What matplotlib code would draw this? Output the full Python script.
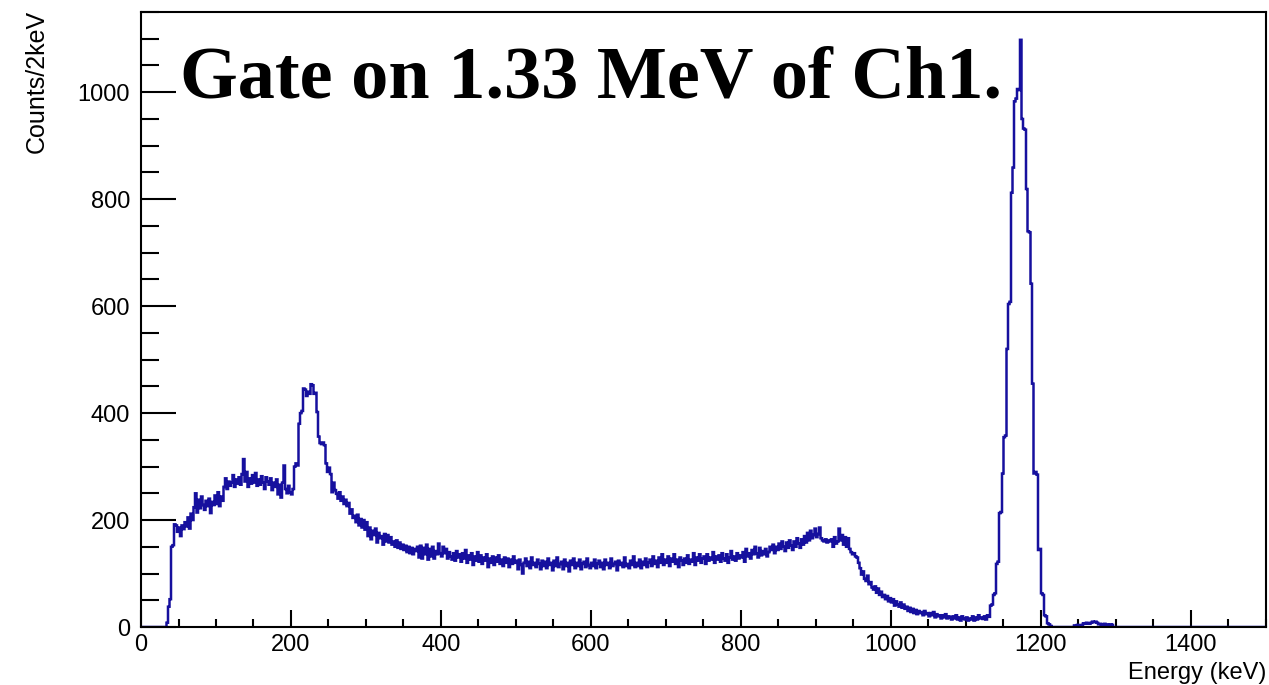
import numpy as np
import matplotlib.pyplot as plt
from matplotlib.ticker import MultipleLocator

# energy spectrum gated on 1.33 MeV, 2 keV per bin from 0 to 1500 keV
bin_width = 2
e_min = 0
e_max = 1500

# counts per bin, 100 keV at a time
counts_0_100 = [0] * 17 + [8, 38, 52, 150, 153, 192, 190, 178,
    186, 170, 190, 183, 196, 188, 205, 184, 212, 200,
    224, 250, 214, 238, 222, 244, 228, 219, 236, 226,
    240, 213, 234, 228, 246]
counts_100_200 = [230, 252, 226, 244, 236, 262, 278, 258, 272, 264,
    270, 284, 262, 276, 268, 280, 266, 286, 314, 272,
    290, 262, 278, 268, 284, 270, 288, 264, 276, 266,
    282, 270, 258, 280, 272, 266, 278, 256, 270, 262,
    276, 248, 266, 242, 270, 302, 258, 250, 264, 252]
counts_200_300 = [248, 258, 300, 306, 302, 380, 400, 404, 446, 444,
    432, 440, 436, 454, 452, 436, 438, 402, 356, 344,
    342, 345, 340, 306, 290, 298, 286, 252, 270, 256,
    249, 240, 252, 236, 244, 230, 238, 226, 232, 212,
    220, 204, 208, 196, 210, 190, 202, 186, 200, 182]
counts_300_400 = [196, 170, 186, 164, 180, 172, 184, 158, 176, 166,
    170, 154, 174, 160, 172, 158, 168, 154, 160, 150,
    162, 148, 158, 146, 154, 144, 152, 140, 150, 138,
    148, 136, 146, 142, 150, 130, 152, 128, 148, 136,
    154, 126, 146, 132, 150, 128, 142, 136, 156, 138]
counts_400_500 = [132, 150, 138, 146, 128, 140, 132, 126, 138, 124,
    142, 130, 136, 122, 138, 128, 144, 120, 134, 126,
    138, 116, 132, 124, 140, 122, 134, 118, 130, 124,
    136, 112, 128, 120, 132, 116, 130, 122, 134, 118,
    126, 114, 130, 120, 128, 112, 126, 118, 132, 120]
counts_500_600 = [124, 108, 126, 116, 100, 120, 128, 114, 122, 110,
    130, 116, 120, 112, 126, 118, 108, 124, 114, 122,
    110, 128, 116, 120, 106, 124, 114, 130, 112, 118,
    122, 108, 126, 114, 120, 104, 124, 116, 128, 110,
    120, 114, 126, 108, 118, 122, 112, 128, 116, 110]
counts_600_700 = [120, 114, 126, 110, 118, 124, 112, 120, 108, 126,
    116, 120, 110, 128, 114, 118, 122, 106, 124, 116,
    120, 112, 130, 114, 118, 110, 124, 116, 132, 112,
    120, 114, 126, 110, 122, 116, 128, 112, 120, 126,
    114, 132, 118, 124, 112, 130, 120, 136, 116, 126]
counts_700_800 = [120, 132, 114, 128, 122, 136, 118, 126, 112, 130,
    124, 116, 128, 120, 134, 118, 126, 122, 138, 116,
    130, 124, 136, 120, 128, 132, 118, 136, 124, 130,
    126, 140, 120, 132, 126, 134, 122, 138, 128, 124,
    136, 120, 130, 142, 126, 132, 124, 138, 128, 134]
counts_800_900 = [130, 140, 122, 146, 132, 138, 128, 144, 136, 150,
    138, 130, 148, 134, 142, 136, 146, 132, 140, 150,
    144, 154, 138, 150, 144, 156, 146, 160, 150, 142,
    158, 148, 162, 152, 144, 160, 150, 166, 156, 148,
    164, 154, 170, 158, 176, 162, 180, 166, 172, 184]
counts_900_1000 = [168, 174, 186, 166, 162, 160, 164, 158, 162, 160,
    164, 150, 168, 156, 160, 184, 162, 172, 154, 168,
    150, 166, 146, 140, 136, 138, 132, 130, 120, 110,
    98, 104, 90, 86, 96, 80, 84, 74, 70, 76,
    64, 72, 60, 66, 56, 60, 52, 58, 48, 54]
counts_1000_1100 = [46, 52, 40, 48, 42, 38, 46, 36, 42, 34,
    38, 30, 36, 28, 34, 26, 32, 24, 30, 26,
    28, 22, 30, 24, 26, 20, 26, 22, 28, 18,
    24, 20, 22, 16, 22, 18, 24, 16, 20, 18,
    14, 20, 16, 22, 14, 18, 12, 20, 16, 14]
counts_1100_1200 = [18, 12, 16, 14, 20, 12, 18, 14, 22, 16,
    18, 15, 20, 14, 22, 19, 40, 42, 60, 63,
    118, 122, 213, 215, 287, 355, 358, 520, 604, 608,
    812, 859, 983, 988, 1006, 1004, 1098, 950, 932, 930,
    819, 740, 738, 642, 455, 287, 290, 285, 144, 146]
counts_1200_1300 = [63, 60, 22, 20, 7, 5, 2] + [0] * 15 + [3, 2, 4, 3, 2, 4,
    7, 6, 8, 7, 6, 8, 10, 9, 10, 8,
    5, 6, 4, 5, 6, 4, 5, 4, 5, 4, 0, 0]
counts_1300_1500 = [0] * 100

counts = np.array(counts_0_100 + counts_100_200 + counts_200_300 + counts_300_400
                  + counts_400_500 + counts_500_600 + counts_600_700 + counts_700_800
                  + counts_800_900 + counts_900_1000 + counts_1000_1100
                  + counts_1100_1200 + counts_1200_1300 + counts_1300_1500)
edges = np.arange(e_min, e_max + bin_width, bin_width)

plt.rcParams['font.family'] = ['Liberation Sans', 'DejaVu Sans']

fig = plt.figure(figsize=(12.69, 6.85), dpi=100)
ax = fig.add_axes([141 / 1269, 58 / 685, 1125 / 1269, 615 / 685])

ax.stairs(counts, edges, color='#16109e', linewidth=1.8, zorder=2)

ax.set_xlim(e_min, e_max)
ax.set_ylim(0, 1150)

# ROOT-like axes: ticks inside, left and bottom only
ax.xaxis.set_major_locator(MultipleLocator(200))
ax.xaxis.set_minor_locator(MultipleLocator(50))
ax.yaxis.set_major_locator(MultipleLocator(200))
ax.yaxis.set_minor_locator(MultipleLocator(50))
ax.tick_params(axis='both', which='both', direction='in', top=False, right=False,
               labelsize=17, width=1.5, colors='black')
ax.tick_params(axis='x', which='major', length=12, pad=5)
ax.tick_params(axis='x', which='minor', length=6)
ax.tick_params(axis='y', which='major', length=25, pad=8)
ax.tick_params(axis='y', which='minor', length=13)
for spine in ax.spines.values():
    spine.set_linewidth(1.5)
    spine.set_zorder(3)

fig.text(37 / 1269, 1 - 10 / 685, 'Counts/2keV', rotation=90, ha='center', va='top', fontsize=18)
fig.text(1266 / 1269, 1 / 685, 'Energy (keV)', ha='right', va='bottom', fontsize=17)

ax.text(180 / 1269, 1 - 97 / 685, 'Gate on 1.33 MeV of Ch1.', transform=fig.transFigure,
        family='Liberation Serif', fontweight='bold', fontsize=53.5, ha='left', va='baseline')

plt.savefig('out.png', dpi=100)
